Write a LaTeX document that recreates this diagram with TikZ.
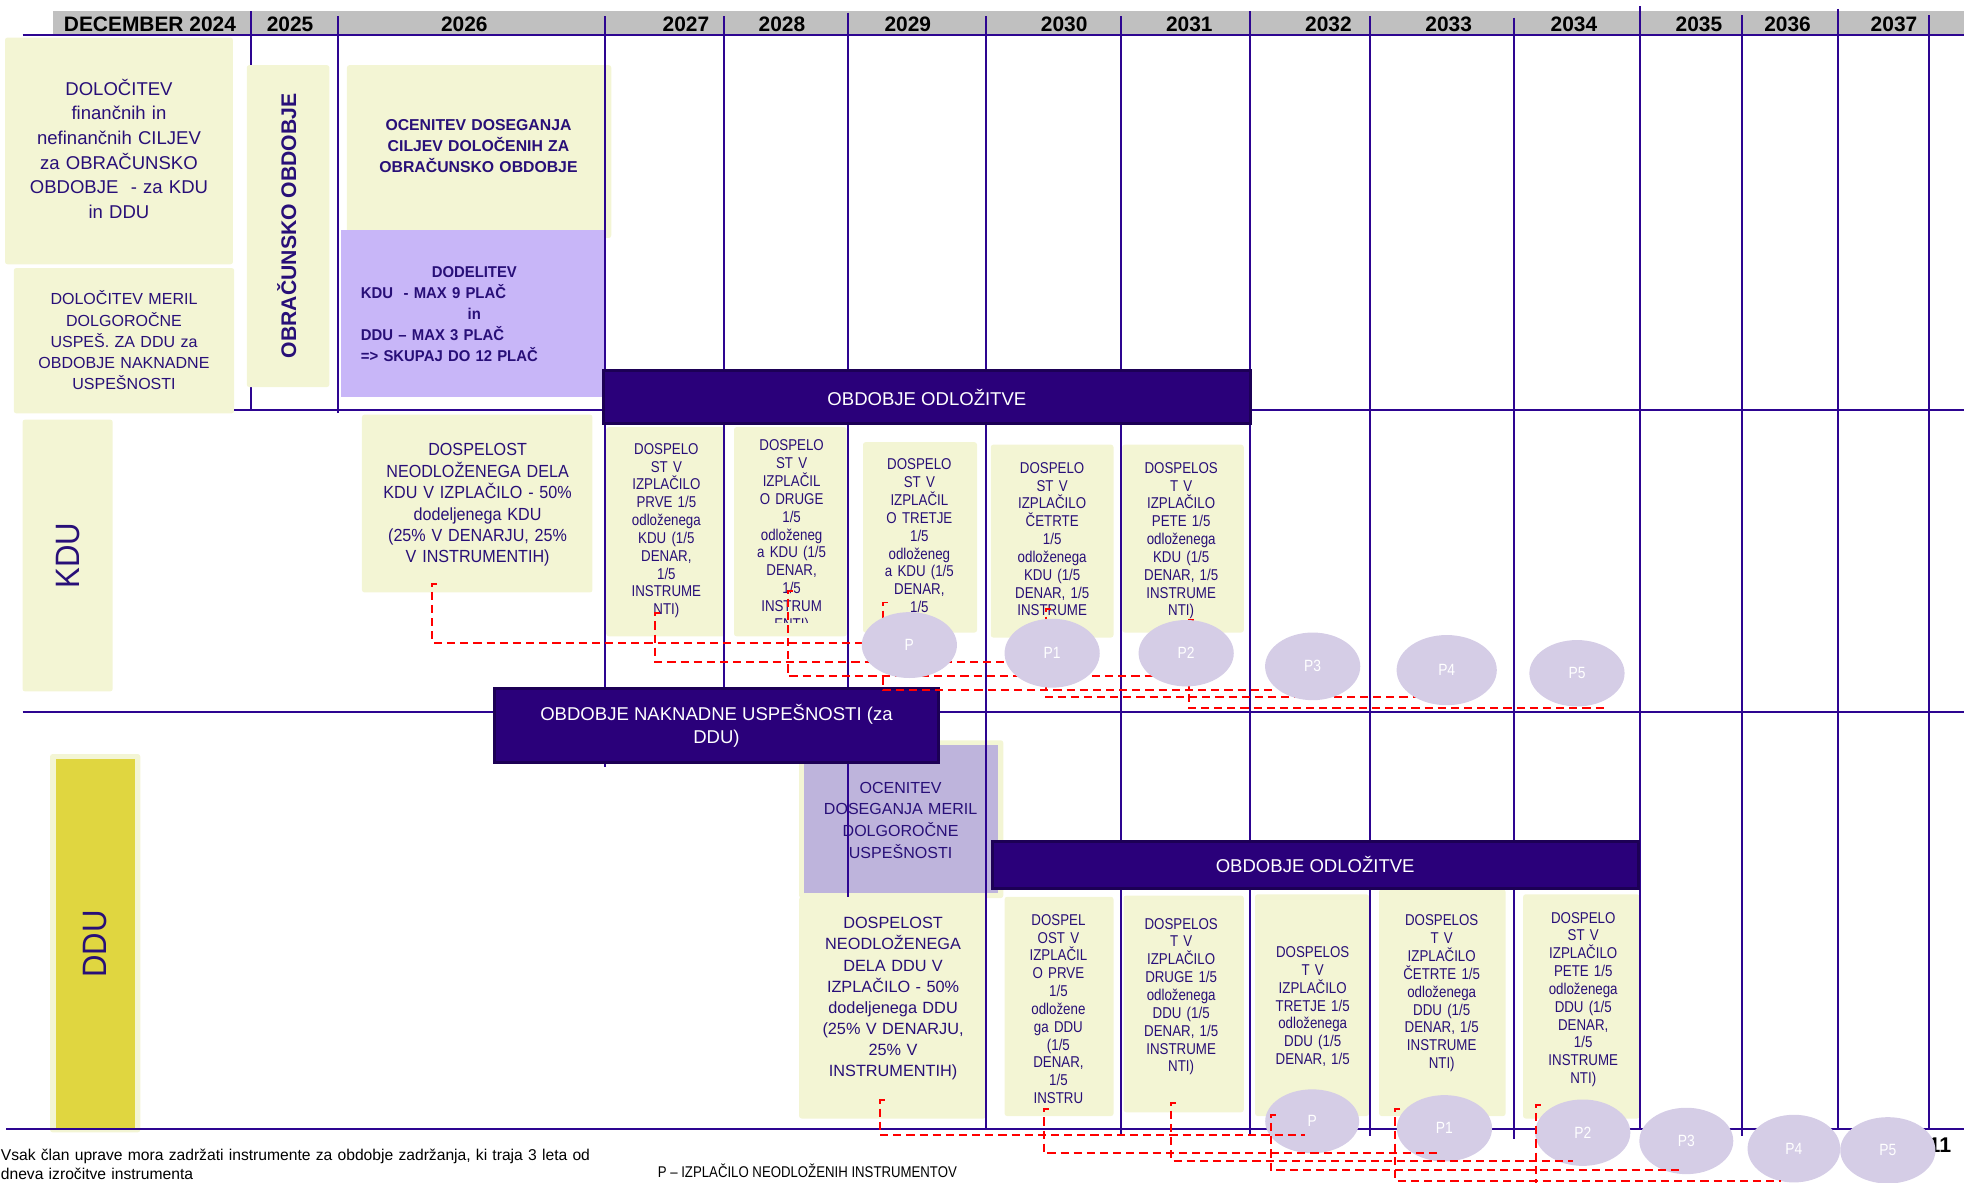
\documentclass[tikz,border=0pt]{standalone}
\usepackage{fontspec}
\setmainfont{Liberation Sans}
\newfontfamily\nf[FakeStretch=0.85]{Liberation Sans}
\newfontfamily\mf[FakeStretch=0.92]{Liberation Sans}
\newfontfamily\bnf[FakeStretch=0.95]{Liberation Sans}
\usetikzlibrary{shapes.geometric}
\newcommand\fs[2]{\fontsize{#1pt}{#2pt}\selectfont}
\definecolor{gridc}{RGB}{45,5,145}
\definecolor{cream}{RGB}{243,245,212}
\definecolor{lavc}{RGB}{200,182,248}
\definecolor{lavtwo}{RGB}{190,180,220}
\definecolor{circc}{RGB}{213,205,230}
\definecolor{barc}{RGB}{42,0,122}
\definecolor{barb}{RGB}{28,0,85}
\definecolor{txt}{RGB}{40,15,120}
\definecolor{dduc}{RGB}{224,214,64}
\definecolor{hdrc}{RGB}{192,192,192}
\tikzset{
  gridl/.style={draw=gridc, line width=1.6pt},
  crm/.style={fill=cream, rounded corners=2pt},
  tb/.style={inner sep=0pt, anchor=north, align=center, text=txt, execute at begin node={\rule{0pt}{1em}}},
  nb/.style={tb, text width=88pt, font=\nf\fs{12.5}{14.24}},
  barn/.style={fill=barc, draw=barb, line width=2.4pt, text=white, inner sep=0pt, font=\fs{14.8}{17.8}},
  circn/.style={ellipse, fill=circc, text=white, inner sep=0pt, font=\nf\fs{13}{15}},
  dsh/.style={draw=red, line width=1.5pt, dash pattern=on 6.5pt off 4pt},
  yrl/.style={font=\bfseries\fs{16.7}{20}, anchor=base, inner sep=0pt, text=black},
  rot/.style={rotate=90, inner sep=0pt, text=txt},
}
\begin{document}
\begin{tikzpicture}[x=1pt,y=-1pt]
\useasboundingbox (0,0) rectangle (1568,944);
\clip (0,0) rectangle (1568,944);

% header band
\fill[hdrc] (42,9) rectangle (1568,28);
\draw[gridl] (200,9) -- (200,327);

% boxes
\fill[crm] (4,30) rectangle (186,211);
\fill[crm] (11,214) rectangle (187,330);
\fill[crm] (197,52) rectangle (263,309);
\fill[crm] (277,52) rectangle (488,190);
\fill[lavc] (272,184) rectangle (483,317);
\fill[crm] (18,335) rectangle (90,552);
\fill[crm] (289,331) rectangle (473,473);
\fill[crm] (484,341) rectangle (579,508);
\fill[crm] (586,341) rectangle (676,508);
\fill[crm] (689,353) rectangle (780,505);
\fill[crm] (791,355) rectangle (889,509);
\fill[crm] (896,355) rectangle (993,505);
\fill[crm] (40,602) rectangle (112,904);
\fill[dduc] (45,606) rectangle (108,901);
\fill[crm] (638,591) rectangle (801,717);
\fill[lavtwo] (642,595) rectangle (797,713);
\fill[crm] (638,716) rectangle (787,893);
\fill[crm] (802,716) rectangle (889,891);
\fill[crm] (897,715) rectangle (993,888);
\fill[crm] (1002,714) rectangle (1093,891);
\fill[crm] (1101,710) rectangle (1202,891);
\fill[crm] (1216,714) rectangle (1309,893);

% box texts
\node[tb, text width=175pt, font=\fs{14.8}{19.7}] (t1) at (95,61) {DOLOČITEV\\finančnih in\\nefinančnih CILJEV\\za OBRAČUNSKO\\OBDOBJE\ \ - za KDU\\in DDU};
\node[tb, text width=170pt, font=\fs{12.8}{16.8}] (t2) at (99,230.5) {DOLOČITEV MERIL\\DOLGOROČNE\\USPEŠ. ZA DDU za\\OBDOBJE NAKNADNE\\USPEŠNOSTI};
\node[rot, font=\bfseries\fs{16.9}{20}] (tob) at (229,180.3) {OBRAČUNSKO OBDOBJE};
\node[tb, text width=200pt, font=\bfseries\fs{12.6}{16.6}] (t3) at (382,91.7) {OCENITEV DOSEGANJA\\CILJEV DOLOČENIH ZA\\OBRAČUNSKO OBDOBJE};
\node[tb, anchor=north west, align=left, text width=181pt, font=\bnf\bfseries\fs{12.5}{16.8}] (t4) at (288,208.9) {\makebox[181pt]{DODELITEV}\\KDU\ \ - MAX 9 PLAČ\\\makebox[181pt]{in}\\DDU – MAX 3 PLAČ\\=> SKUPAJ DO 12 PLAČ};
\node[rot, font=\mf\fs{27}{30}] (tkdu) at (54,443.7) {KDU};
\node[tb, text width=180pt, font=\mf\fs{14}{17.1}] (t5) at (381.3,349.7) {DOSPELOST\\NEODLOŽENEGA DELA\\KDU V IZPLAČILO - 50\%\\dodeljenega KDU\\(25\% V DENARJU, 25\%\\V INSTRUMENTIH)};
\node[nb] (ka) at (532,350) {DOSPELO\\ST V\\IZPLAČILO\\PRVE 1/5\\odloženega\\KDU (1/5\\DENAR,\\1/5\\INSTRUME\\NTI)};
\begin{scope}
\clip (586,341) rectangle (676,497);
\node[nb] (kb) at (632,347.3) {DOSPELO\\ST V\\IZPLAČIL\\O DRUGE\\1/5\\odloženeg\\a KDU (1/5\\DENAR,\\1/5\\INSTRUM\\ENTI)};
\end{scope}
\node[nb] (kc) at (734,362.4) {DOSPELO\\ST V\\IZPLAČIL\\O TRETJE\\1/5\\odloženeg\\a KDU (1/5\\DENAR,\\1/5};
\node[nb] (kd) at (840,365.1) {DOSPELO\\ST V\\IZPLAČILO\\ČETRTE\\1/5\\odloženega\\KDU (1/5\\DENAR, 1/5\\INSTRUME};
\node[nb] (ke) at (943,365.1) {DOSPELOS\\T V\\IZPLAČILO\\PETE 1/5\\odloženega\\KDU (1/5\\DENAR, 1/5\\INSTRUME\\NTI)};
\node[rot, font=\mf\fs{27}{30}] (tddu) at (76,753.6) {DDU};
\node[tb, text width=150pt, font=\fs{12.8}{17.2}] (t6) at (719,620.4) {OCENITEV\\DOSEGANJA MERIL\\DOLGOROČNE\\USPEŠNOSTI};
\node[tb, text width=145pt, font=\fs{13}{16.9}] (t7) at (713,728.3) {DOSPELOST\\NEODLOŽENEGA\\DELA DDU V\\IZPLAČILO - 50\%\\dodeljenega DDU\\(25\% V DENARJU,\\25\% V\\INSTRUMENTIH)};
\node[nb] (df) at (845,726) {DOSPEL\\OST V\\IZPLAČIL\\O PRVE\\1/5\\odložene\\ga DDU\\(1/5\\DENAR,\\1/5\\INSTRU};
\node[nb] (dg) at (943,729.1) {DOSPELOS\\T V\\IZPLAČILO\\DRUGE 1/5\\odloženega\\DDU (1/5\\DENAR, 1/5\\INSTRUME\\NTI)};
\node[nb] (dh) at (1048,751.8) {DOSPELOS\\T V\\IZPLAČILO\\TRETJE 1/5\\odloženega\\DDU (1/5\\DENAR, 1/5};
\node[nb] (di) at (1151,726.5) {DOSPELOS\\T V\\IZPLAČILO\\ČETRTE 1/5\\odloženega\\DDU (1/5\\DENAR, 1/5\\INSTRUME\\NTI)};
\node[nb] (dj) at (1264,724.3) {DOSPELO\\ST V\\IZPLAČILO\\PETE 1/5\\odloženega\\DDU (1/5\\DENAR,\\1/5\\INSTRUME\\NTI)};

% grid lines
\foreach \gx/\gt/\gb in {270/13/330, 483/13/612, 578/13/568, 677/10/716, 787/13/901, 895/13/906, 998/9/905, 1094/13/907, 1209/14/909, 1309/5/902, 1391/12/907, 1467/7/902, 1540/12/902}
  \draw[gridl] (\gx,\gt) -- (\gx,\gb);
\draw[gridl] (18,28) -- (1568,28);
\draw[gridl] (187,327.3) -- (1568,327.3);
\draw[gridl] (18,568.7) -- (1568,568.7);
\draw[gridl] (5,901) -- (1568,901);

% header labels
\node[yrl] (h0) at (119.7,25.3) {DECEMBER 2024};
\node[yrl] (h1) at (231.6,25.3) {2025};
\node[yrl] (h2) at (370.7,25.3) {2026};
\node[yrl] (h3) at (547.6,25.3) {2027};
\node[yrl] (h4) at (624.3,25.3) {2028};
\node[yrl] (h5) at (724.8,25.3) {2029};
\node[yrl] (h6) at (849.6,25.3) {2030};
\node[yrl] (h7) at (949.5,25.3) {2031};
\node[yrl] (h8) at (1060.6,25.3) {2032};
\node[yrl] (h9) at (1156.6,25.3) {2033};
\node[yrl] (h10) at (1256.6,25.3) {2034};
\node[yrl] (h11) at (1356.4,25.3) {2035};
\node[yrl] (h12) at (1427.1,25.3) {2036};
\node[yrl] (h13) at (1512.1,25.3) {2037};

% bars
\node[barn, minimum width=516pt, minimum height=42pt] (odl1) at (740,317) {OBDOBJE ODLOŽITVE};
\node[barn, minimum width=354pt, minimum height=59pt, align=center] (nak) at (572,579.5) {OBDOBJE NAKNADNE USPEŠNOSTI (za\\DDU)};
\node[barn, minimum width=516pt, minimum height=37pt] (odl2) at (1050,690.5) {OBDOBJE ODLOŽITVE};

% KDU connectors
\coordinate (k1s) at (345,466);   \coordinate (k1e) at (701,513);
\coordinate (k2s) at (523,489.6); \coordinate (k2e) at (809,528.3);
\coordinate (k3s) at (629,471.5); \coordinate (k3e) at (920.6,539.7);
\coordinate (k4s) at (705,481);   \coordinate (k4e) at (1018,551);
\coordinate (k5s) at (835,486);   \coordinate (k5e) at (1131,556.7);
\coordinate (k6s) at (949.3,495); \coordinate (k6e) at (1281,565.5);
\foreach \k in {1,...,6}
  \draw[dsh] ([xshift=4pt]k\k s) -- (k\k s) |- (k\k e);

% KDU payments
\node[circn, minimum width=76pt, minimum height=52.6pt] (kp0) at (726,515) {P};
\node[circn, minimum width=76pt, minimum height=55pt] (kp1) at (840,521.5) {P1};
\node[circn, minimum width=76pt, minimum height=53pt] (kp2) at (947,521.5) {P2};
\node[circn, minimum width=76pt, minimum height=54pt] (kp3) at (1048,532) {P3};
\node[circn, minimum width=80pt, minimum height=56pt] (kp4) at (1155,535) {P4};
\node[circn, minimum width=76pt, minimum height=53pt] (kp5) at (1259,537.5) {P5};

% page number
\node[font=\bfseries\fs{17}{20}, anchor=base east, inner sep=0pt] (pg) at (1558,920) {11};

% DDU payments
\node[circn, minimum width=75pt, minimum height=51pt] (dp0) at (1047.6,895.2) {P};
\node[circn, minimum width=76pt, minimum height=53pt] (dp1) at (1153.2,900.8) {P1};
\node[circn, minimum width=76pt, minimum height=53pt] (dp2) at (1263.6,904.3) {P2};
\node[circn, minimum width=75pt, minimum height=53pt] (dp3) at (1346.3,910.9) {P3};
\node[circn, minimum width=74pt, minimum height=54pt] (dp4) at (1432.2,917) {P4};
\node[circn, minimum width=76pt, minimum height=53pt] (dp5) at (1507.2,918.4) {P5};

% DDU connectors
\coordinate (d1s) at (702.4,878.5); \coordinate (d1e) at (1041.6,905.8);
\coordinate (d2s) at (833.4,885.6); \coordinate (d2e) at (1148,920.8);
\coordinate (d3s) at (935,880.3);   \coordinate (d3e) at (1256,926.9);
\coordinate (d4s) at (1014.4,890.2);\coordinate (d4e) at (1342,934);
\coordinate (d5s) at (1114,885.6);  \coordinate (d5e) at (1421.6,942.6);
\coordinate (d6s) at (1226,882.2);  \coordinate (d6e) at (1507,952);
\foreach \k in {1,...,6}
  \draw[dsh] ([xshift=4pt]d\k s) -- (d\k s) |- (d\k e);

% footnotes
\node[tb, anchor=north west, align=left, text=black, text width=620pt, font=\fs{12.5}{15}] (fn1) at (0.5,914) {Vsak član uprave mora zadržati instrumente za obdobje zadržanja, ki traja 3 leta od\\dneva izročitve instrumenta};
\node[anchor=base west, inner sep=0pt, font=\nf\fs{12.4}{14}] (fn2) at (525,939.8) {P – IZPLAČILO NEODLOŽENIH INSTRUMENTOV};
\end{tikzpicture}
\end{document}
